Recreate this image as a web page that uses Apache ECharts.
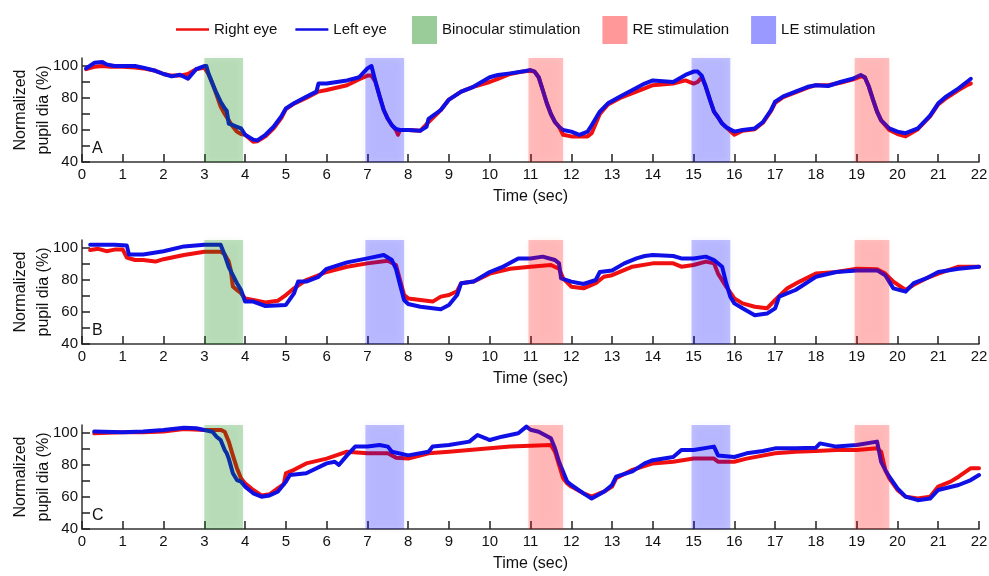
<!DOCTYPE html>
<html><head><meta charset="utf-8">
<script src="https://cdn.jsdelivr.net/npm/echarts@6/dist/echarts.min.js"></script>
<style>html,body{margin:0;padding:0;background:#fff}#c{width:989px;height:576px}</style>
</head><body><div id="c"></div>
<script>
// ---- DATA ----
const xTicks = [0,1,2,3,4,5,6,7,8,9,10,11,12,13,14,15,16,17,18,19,20,21,22];
const yTickValues = [40,50,60,70,80,90,100];
const yLabelValues = [40,60,80,100];
const panelLetters = ['A','B','C'];

const binocularStim = [[3.0,3.95]];
const leStim = [[6.95,7.9],[14.95,15.9]];
const reStim = [[10.95,11.8],[18.95,19.8]];

const rightEyeA = [[0.1,98],[0.3,99.5],[0.5,100],[0.7,99.5],[1.0,99.5],[1.3,99],[1.5,98.5],[1.8,97],[2.0,95],[2.2,94],[2.4,94],[2.6,95],[2.8,98],[3.0,99],[3.1,95],[3.2,89],[3.3,82],[3.4,74.6],[3.5,70],[3.6,66],[3.7,62],[3.8,59],[3.9,57.5],[4.0,57],[4.2,52.7],[4.3,53],[4.5,56],[4.7,61],[4.9,68],[5.0,73],[5.2,76.5],[5.5,80],[5.8,84],[6.0,85],[6.5,88],[6.8,91.7],[7.0,94],[7.1,94],[7.2,90],[7.3,81],[7.4,72.5],[7.5,67],[7.6,63],[7.7,60],[7.75,57],[7.8,60],[8.0,60],[8.3,59.6],[8.5,65],[8.8,72.5],[9.0,79],[9.3,84],[9.6,87],[10.0,90],[10.2,92],[10.5,95],[10.8,96.5],[11.0,97],[11.1,96.5],[11.2,93],[11.3,85],[11.4,76.7],[11.5,70],[11.6,65],[11.7,62],[11.8,57],[12.0,56],[12.2,56],[12.4,56],[12.5,58],[12.7,70],[12.9,76],[13.2,80],[13.5,83],[13.8,86],[14.0,88],[14.5,89],[14.8,91],[15.0,89],[15.1,90],[15.2,93],[15.3,87],[15.4,79],[15.5,71.5],[15.6,68],[15.7,64],[15.8,61.7],[16.0,57],[16.2,59.5],[16.5,60.5],[16.7,64.5],[16.9,72],[17.0,77],[17.2,80.5],[17.5,83.5],[17.8,86.5],[18.0,88],[18.3,88],[18.6,89.5],[18.9,91.5],[19.1,93.5],[19.2,93],[19.3,87],[19.4,79],[19.5,71.5],[19.6,66],[19.8,60],[20.0,57.5],[20.2,56],[20.5,60.5],[20.8,68.5],[21.0,76],[21.2,80],[21.5,85],[21.7,88],[21.8,89]];
const leftEyeA = [[0.1,98.5],[0.3,102],[0.5,102.5],[0.6,101],[0.8,100],[1.0,100],[1.3,100],[1.5,99],[1.8,97],[2.0,95],[2.2,93.5],[2.4,94.5],[2.6,92],[2.8,98],[2.9,99],[3.0,100],[3.05,100],[3.1,95.4],[3.2,89],[3.3,83],[3.4,77.7],[3.5,73.5],[3.55,72],[3.6,64],[3.7,63],[3.8,62],[3.9,61],[4.0,57],[4.2,54],[4.3,53.5],[4.5,57],[4.7,62],[4.9,69],[5.0,73.5],[5.2,76.7],[5.5,80.8],[5.75,84],[5.8,89],[6.0,89],[6.5,91],[6.8,93],[7.0,98.5],[7.1,100],[7.2,90],[7.3,81],[7.4,72.5],[7.5,67],[7.6,63],[7.7,60.6],[7.8,60],[8.0,60],[8.3,59.6],[8.45,62],[8.5,67],[8.8,72.5],[9.0,79],[9.3,84],[9.6,87],[10.0,93],[10.2,94.4],[10.5,95.4],[10.8,96.5],[11.0,97.5],[11.1,96.5],[11.2,93],[11.3,85],[11.4,76.7],[11.5,70],[11.6,65],[11.7,62],[11.8,60],[12.0,59],[12.2,57],[12.4,59],[12.5,63],[12.7,71.5],[12.9,76.7],[13.2,81],[13.5,85],[13.8,89],[14.0,91],[14.5,90],[14.8,94.4],[15.0,96.5],[15.1,96.5],[15.2,94],[15.3,87],[15.4,79],[15.5,71.5],[15.6,68],[15.7,64],[15.8,61.7],[16.0,59],[16.2,60],[16.5,61],[16.7,65],[16.9,72.5],[17.0,77.7],[17.2,81],[17.5,84],[17.8,87],[18.0,88],[18.3,87.5],[18.6,90],[18.9,92],[19.1,94.4],[19.2,93],[19.3,87],[19.4,79],[19.5,71.5],[19.6,66],[19.8,61],[20.0,59],[20.2,58],[20.5,61],[20.8,69],[21.0,76.7],[21.2,81],[21.5,86],[21.7,90],[21.8,92]];

const rightEyeB = [[0.2,98.7],[0.4,99.5],[0.6,98],[0.8,99],[1.0,99],[1.1,94],[1.3,92.5],[1.5,92.5],[1.8,91.5],[2.0,93],[2.5,95.6],[3.0,97.7],[3.4,97.7],[3.5,96],[3.6,91.5],[3.65,86],[3.7,76],[3.8,73.75],[3.9,71.7],[4.0,68.5],[4.2,67.5],[4.5,66],[4.8,67],[5.0,70.6],[5.2,74.8],[5.5,80],[6.0,85],[6.5,88.3],[7.0,90.4],[7.5,92],[7.7,89.4],[7.8,80],[7.9,70.6],[8.0,68.5],[8.3,67.5],[8.6,66.5],[8.8,69.6],[9.0,70.6],[9.2,73],[9.3,78],[9.6,79],[10.0,84],[10.5,87],[11.0,88.3],[11.5,89.4],[11.7,87],[11.8,81],[12.0,75.8],[12.3,74.8],[12.6,78],[12.8,82],[13.0,83],[13.5,88.3],[14.0,90.4],[14.5,90.4],[14.7,88.3],[15.0,89.4],[15.3,91.5],[15.5,90.4],[15.6,84],[15.8,75.8],[16.0,68.5],[16.2,65.4],[16.5,63.3],[16.8,62.3],[17.0,67.5],[17.3,74.8],[17.6,79],[18.0,84],[18.5,85],[19.0,87],[19.5,86.7],[19.7,84],[19.9,79],[20.2,73.75],[20.4,77],[20.7,81],[21.0,84],[21.5,88.3],[22.0,88.3]];
const leftEyeB = [[0.2,102],[0.5,102],[0.8,102],[1.1,101.5],[1.15,96],[1.5,96],[2.0,98],[2.5,101],[3.0,102],[3.4,102],[3.5,95.6],[3.6,88],[3.7,83],[3.8,78],[3.9,73.75],[4.0,66.5],[4.2,66.5],[4.5,63.75],[5.0,64.4],[5.2,71.7],[5.3,79],[5.5,79],[5.8,82],[6.0,87],[6.5,91],[7.0,93.5],[7.4,95.6],[7.6,92.5],[7.7,87],[7.8,77],[7.9,67.5],[8.0,65],[8.3,63.3],[8.6,62.3],[8.8,61.7],[9.0,64.4],[9.2,70.6],[9.3,78],[9.6,79],[10.0,85],[10.3,88],[10.7,93.5],[11.0,93.5],[11.3,94.6],[11.6,92.5],[11.7,90.4],[11.75,81],[12.0,79],[12.3,77.5],[12.6,80],[12.7,85],[13.0,86],[13.3,90.4],[13.6,93.5],[13.8,95],[14.0,95.6],[14.5,95],[14.7,93.5],[15.0,93.5],[15.3,94.6],[15.5,92.5],[15.7,88.3],[15.8,78],[15.9,69.6],[16.0,65.4],[16.2,62.3],[16.5,58],[16.8,59],[17.0,62.3],[17.1,69.6],[17.5,73.75],[17.7,77],[18.0,82],[18.5,85],[19.0,86],[19.5,86],[19.7,83],[19.9,74.8],[20.2,72.7],[20.4,78],[20.7,81],[21.0,85],[21.5,87],[22.0,88.3]];

const rightEyeC = [[0.3,99.8],[1.0,100.4],[1.5,100.5],[2.0,101],[2.5,102.5],[3.0,101.9],[3.4,101.9],[3.5,100.8],[3.6,94.6],[3.7,86],[3.8,78],[3.9,71.7],[4.0,68.5],[4.2,64.4],[4.4,61],[4.6,61.7],[4.8,65.4],[4.95,68],[5.0,74.8],[5.2,77],[5.5,81],[6.0,84],[6.5,88.3],[7.0,87.3],[7.5,87.3],[7.7,84.6],[8.0,84],[8.5,87.3],[9.0,88.3],[9.5,89.4],[10.0,90.4],[10.5,91.5],[11.0,92],[11.5,92.5],[11.6,88.3],[11.7,80],[11.8,71.7],[11.9,68.5],[12.0,66.5],[12.3,62.3],[12.5,60.2],[12.8,63.3],[13.0,66.5],[13.1,71.7],[13.5,77],[14.0,81],[14.5,82],[15.0,84],[15.5,84],[15.6,82],[16.0,82],[16.3,84],[17.0,87.3],[17.5,88.3],[18.0,88.75],[18.5,89.4],[19.0,89.4],[19.5,90.4],[19.6,88.3],[19.7,77],[19.8,71.7],[20.0,64.4],[20.2,60.2],[20.5,59],[20.8,60.2],[21.0,66.5],[21.3,69.6],[21.5,72.7],[21.8,78],[22.0,78]];
const leftEyeC = [[0.3,101],[1.0,100.4],[1.5,101],[2.0,101.9],[2.5,103.3],[2.8,103],[3.0,101.9],[3.2,100.8],[3.3,97.7],[3.4,95.6],[3.5,89.4],[3.55,87.3],[3.6,84],[3.7,74.8],[3.8,70.6],[3.9,69.6],[4.0,66.5],[4.2,62.3],[4.4,60.2],[4.6,61],[4.8,63.3],[5.0,69.6],[5.1,73.75],[5.5,74.8],[6.0,81],[6.2,82],[6.3,80],[6.5,86],[6.7,91.5],[7.0,91.5],[7.3,92.5],[7.5,91.5],[7.6,88.3],[8.0,86],[8.5,88.3],[8.6,91.5],[9.0,92.5],[9.5,94.6],[9.7,98.75],[9.9,96.7],[10.0,95.6],[10.3,97.7],[10.7,99.8],[10.9,104],[11.0,102],[11.2,100.8],[11.5,96.7],[11.6,90.4],[11.7,82],[11.8,75.8],[11.9,69.6],[12.0,67.5],[12.3,62.3],[12.5,59],[12.8,63.3],[13.0,67.5],[13.1,72.7],[13.5,76],[13.8,81],[14.0,83],[14.5,85],[14.7,89.4],[15.0,89.4],[15.5,91.5],[15.6,86],[16.0,85],[16.3,87.3],[16.7,88.75],[17.0,90.4],[17.5,90.4],[18.0,90.8],[18.1,93.5],[18.5,91.5],[19.0,92.5],[19.5,94.6],[19.6,82],[19.7,76.9],[19.8,72.7],[20.0,65.4],[20.2,60.2],[20.5,58],[20.8,59],[21.0,64.4],[21.5,67.5],[21.8,70.6],[22.0,73.75]];

// ---- CHART ----
const rightData = [rightEyeA, rightEyeB, rightEyeC];
const leftData = [leftEyeA, leftEyeB, leftEyeC];
const gridTops = [58, 240, 425];
const FONT = '"Liberation Sans", Arial, sans-serif';
const axisColor = '#333';

const grids = [], xAxes = [], yAxes = [], series = [], graphics = [];
const stimDefs = [
  {name:'Binocular stimulation', ranges: binocularStim, rgb:'0,128,0'},
  {name:'RE stimulation', ranges: reStim, rgb:'255,0,0'},
  {name:'LE stimulation', ranges: leStim, rgb:'0,0,255'}
];
for (let i = 0; i < 3; i++) {
  grids.push({left: 82, right: 10, top: gridTops[i], height: 104, containLabel:false, outerBoundsMode:'none'});
  xAxes.push({
    type:'value', gridIndex:i, min:0, max:22, interval:1,
    name:'Time (sec)', nameLocation:'middle', nameGap:27, nameMoveOverlap:false,
    nameTextStyle:{fontFamily:FONT, fontSize:16, color:'#111'},
    axisLine:{show:true, lineStyle:{color:axisColor, width:1.5}},
    axisTick:{show:true, inside:true, length:8, lineStyle:{color:'#222', width:1.5}},
    axisLabel:{fontFamily:FONT, fontSize:15, color:'#111', margin:5},
    splitLine:{show:false}
  });
  yAxes.push({
    type:'value', gridIndex:i, min:40, max:105,
    name:'Normalized\npupil dia (%)', nameLocation:'middle', nameGap:27, nameRotate:90, nameMoveOverlap:false,
    nameTextStyle:{fontFamily:FONT, fontSize:16, color:'#111', lineHeight:23},
    axisLine:{show:true, lineStyle:{color:axisColor, width:1.5}},
    axisTick:{show:true, inside:true, length:8, lineStyle:{color:'#222', width:1.5}, customValues: yTickValues},
    axisLabel:{fontFamily:FONT, fontSize:15, color:'#111', margin:4, customValues: yLabelValues},
    splitLine:{show:false}
  });
  series.push({
    name:'Right eye', type:'line', xAxisIndex:i, yAxisIndex:i, data: rightData[i],
    showSymbol:false, color:'#f01010', lineStyle:{width:4, color:'#f01010', cap:'round', join:'round'}, z:2, animation:false
  });
  series.push({
    name:'Left eye', type:'line', xAxisIndex:i, yAxisIndex:i, data: leftData[i],
    showSymbol:false, color:'#1010e6', lineStyle:{width:4, color:'#1010e6', cap:'round', join:'round'}, z:2, animation:false
  });
  stimDefs.forEach(s => {
    series.push({
      name:s.name, type:'line', xAxisIndex:i, yAxisIndex:i, data:[], animation:false,
      color:'rgba(' + s.rgb + ',0.4)',
      markArea:{
        silent:true, z:5,
        itemStyle:{color:'rgba(' + s.rgb + ',0.24)', shadowBlur:7, shadowColor:'rgba(' + s.rgb + ',0.24)'},
        data: s.ranges.map(r => [{xAxis:r[0]}, {xAxis:r[1]}])
      }
    });
  });
  graphics.push({type:'text', left:92, top: gridTops[i] + 83,
    style:{text: panelLetters[i], font:'16px "Liberation Sans", Arial, sans-serif', fill:'#111'}});
}

const chart = echarts.init(document.getElementById('c'), null, {renderer:'canvas'});
chart.setOption({
  animation:false,
  backgroundColor:'#fff',
  grid: grids, xAxis: xAxes, yAxis: yAxes, series: series, graphic: graphics,
  legend: [
    {data:['Right eye','Left eye'], left:171, top:17, icon:'rect', itemWidth:33, itemHeight:2.5, itemGap:18,
     textStyle:{fontFamily:FONT, fontSize:15, color:'#111'}},
    {data:['Binocular stimulation','RE stimulation','LE stimulation'], left:407, top:11, icon:'rect',
     itemWidth:25, itemHeight:28, itemGap:22, textStyle:{fontFamily:FONT, fontSize:15, color:'#111'}}
  ]
});
</script></body></html>
